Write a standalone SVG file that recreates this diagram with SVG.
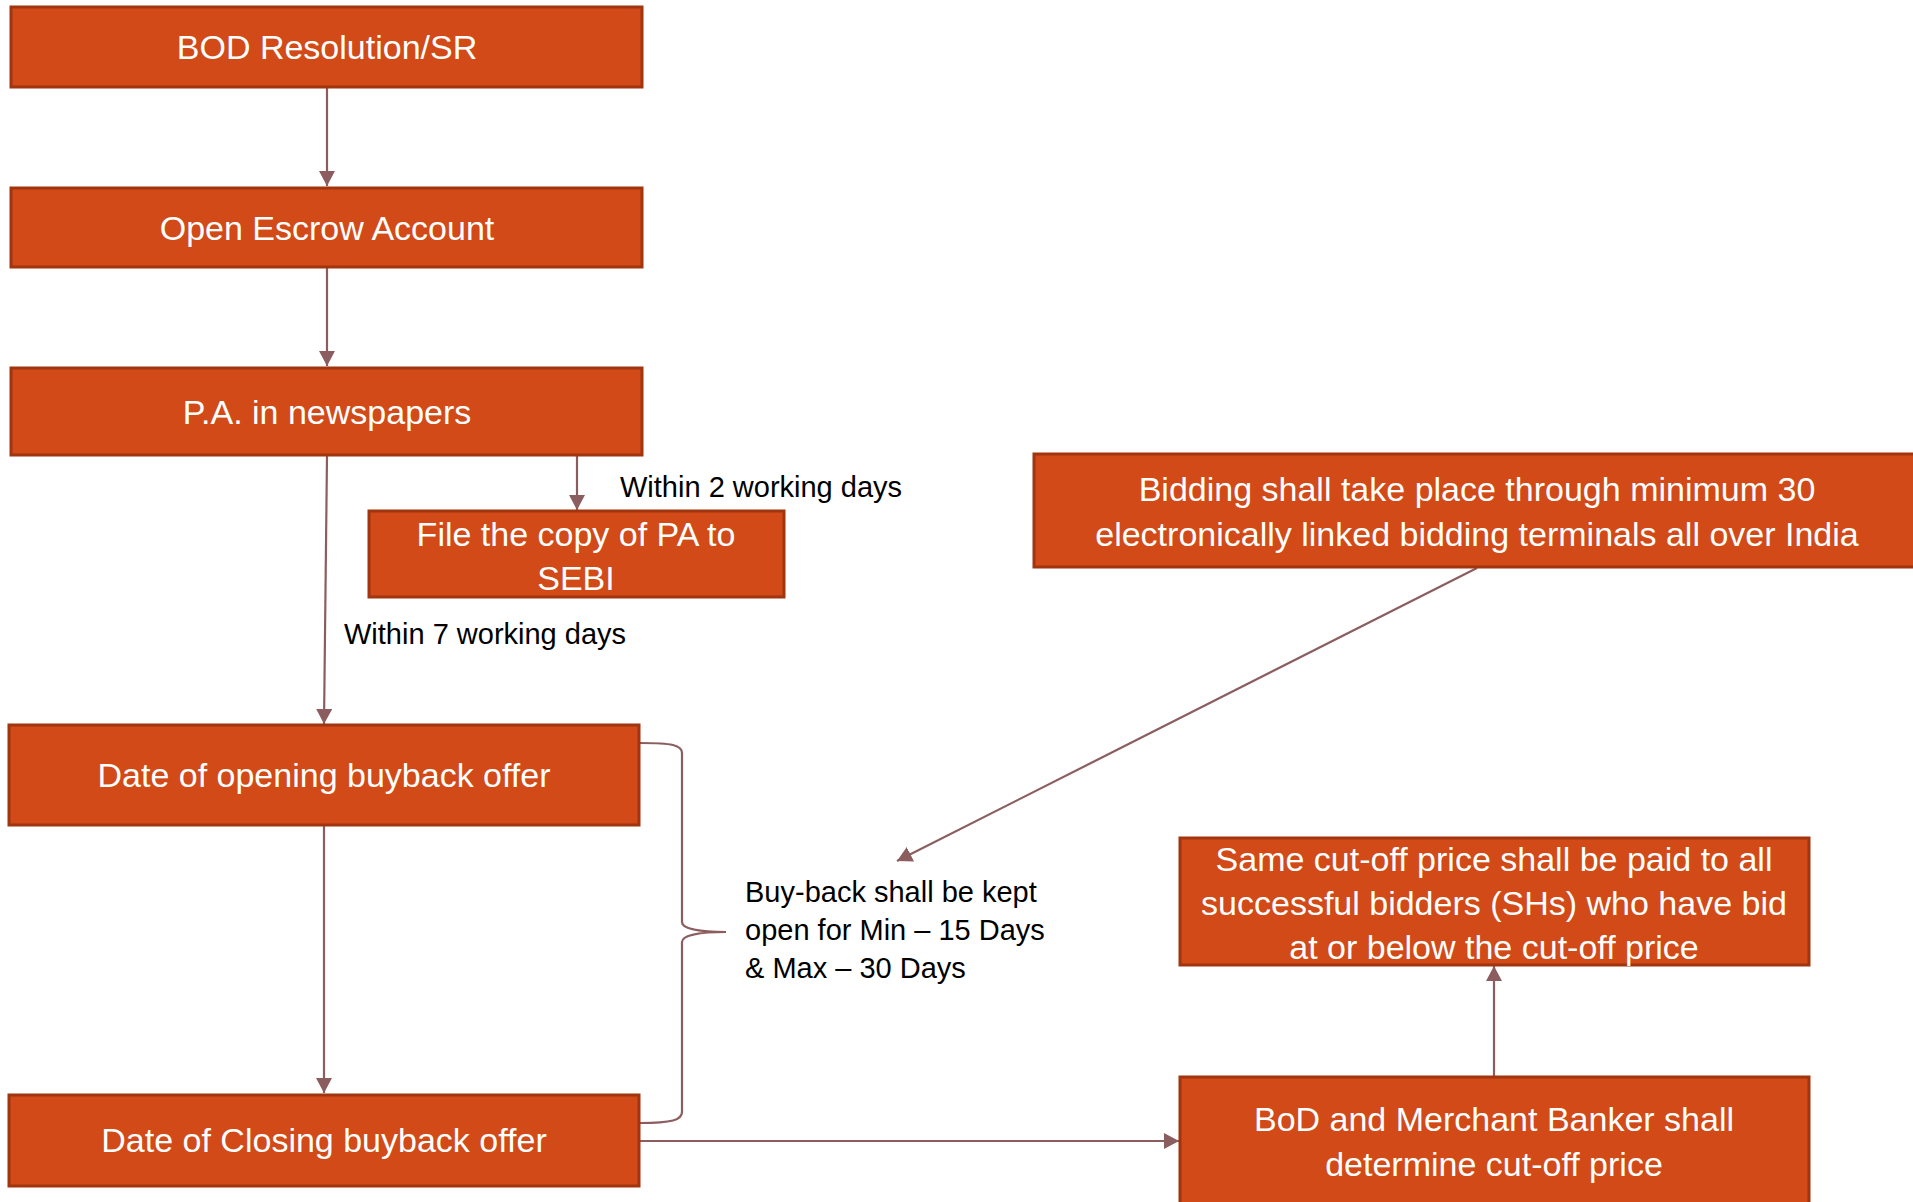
<svg xmlns="http://www.w3.org/2000/svg" width="1913" height="1202" viewBox="0 0 1913 1202">
  <defs>
    <marker id="arrow" markerUnits="userSpaceOnUse" markerWidth="16" markerHeight="16" viewBox="0 0 16 16" refX="15" refY="8" orient="auto">
      <path d="M0,0 L15,8 L0,16 Z" fill="#8C5D5F"/>
    </marker>
    <style>
      .box { fill: #D14A18; stroke: #A0350F; stroke-width: 3; }
      .bt { fill: #FFFFFF; font-family: "Liberation Sans", Arial, sans-serif; font-size: 34px; text-anchor: middle; }
      .lbl { fill: #000000; font-family: "Liberation Sans", Arial, sans-serif; font-size: 29px; }
      .conn { fill: none; stroke: #8C5D5F; stroke-width: 2.2; }
    </style>
  </defs>
  <rect width="1913" height="1202" fill="#FFFFFF"/>

  <!-- connectors -->
  <g id="connectors">
    <line class="conn" x1="327" y1="88" x2="327" y2="186" marker-end="url(#arrow)"/>
    <line class="conn" x1="327" y1="268" x2="327" y2="366" marker-end="url(#arrow)"/>
    <line class="conn" x1="327" y1="456" x2="324" y2="724" marker-end="url(#arrow)"/>
    <line class="conn" x1="577" y1="456" x2="577" y2="510" marker-end="url(#arrow)"/>
    <line class="conn" x1="324" y1="826" x2="324" y2="1093" marker-end="url(#arrow)"/>
    <line class="conn" x1="640" y1="1141" x2="1179" y2="1141" marker-end="url(#arrow)"/>
    <line class="conn" x1="1494" y1="1077" x2="1494" y2="966" marker-end="url(#arrow)"/>
    <line class="conn" x1="1477" y1="568" x2="897" y2="861" marker-end="url(#arrow)"/>
    <!-- brace spanning the open period -->
    <path class="conn" d="M640,743 C672,743 682,745 682,753 L682,922 C682,929 700,932 726,932 C700,932 682,935 682,942 L682,1112 C682,1120 672,1123 640,1123"/>
  </g>

  <g id="bod-resolution">
    <rect class="box" x="11" y="7" width="631" height="80"/>
    <text class="bt" x="327" y="59">BOD Resolution/SR</text>
  </g>

  <g id="escrow-account">
    <rect class="box" x="11" y="188" width="631" height="79"/>
    <text class="bt" x="327" y="240">Open Escrow Account</text>
  </g>

  <g id="pa-newspapers">
    <rect class="box" x="11" y="368" width="631" height="87"/>
    <text class="bt" x="327" y="424">P.A. in newspapers</text>
  </g>

  <g id="file-pa-sebi">
    <rect class="box" x="369" y="511" width="415" height="86"/>
    <text class="bt" x="576" y="546">File the copy of PA to</text>
    <text class="bt" x="576" y="590">SEBI</text>
  </g>

  <g id="opening-date">
    <rect class="box" x="9" y="725" width="630" height="100"/>
    <text class="bt" x="324" y="787">Date of opening buyback offer</text>
  </g>

  <g id="closing-date">
    <rect class="box" x="9" y="1095" width="630" height="91"/>
    <text class="bt" x="324" y="1152">Date of Closing buyback offer</text>
  </g>

  <g id="bidding-terminals">
    <rect class="box" x="1034" y="454" width="888" height="113"/>
    <text class="bt" x="1477" y="501">Bidding shall take place through minimum 30</text>
    <text class="bt" x="1477" y="546">electronically linked bidding terminals all over India</text>
  </g>

  <g id="same-price">
    <rect class="box" x="1180" y="838" width="629" height="127"/>
    <text class="bt" x="1494" y="871">Same cut-off price shall be paid to all</text>
    <text class="bt" x="1494" y="915">successful bidders (SHs) who have bid</text>
    <text class="bt" x="1494" y="959">at or below the cut-off price</text>
  </g>

  <g id="cutoff-price">
    <rect class="box" x="1180" y="1077" width="629" height="140"/>
    <text class="bt" x="1494" y="1131">BoD and Merchant Banker shall</text>
    <text class="bt" x="1494" y="1176">determine cut-off price</text>
  </g>

  <!-- free-standing labels -->
  <g id="labels">
    <text class="lbl" x="620" y="497">Within 2 working days</text>
    <text class="lbl" x="344" y="644">Within 7 working days</text>
    <text class="lbl" x="745" y="902">Buy-back shall be kept</text>
    <text class="lbl" x="745" y="940">open for Min – 15 Days</text>
    <text class="lbl" x="745" y="978">&amp; Max – 30 Days</text>
  </g>
</svg>
